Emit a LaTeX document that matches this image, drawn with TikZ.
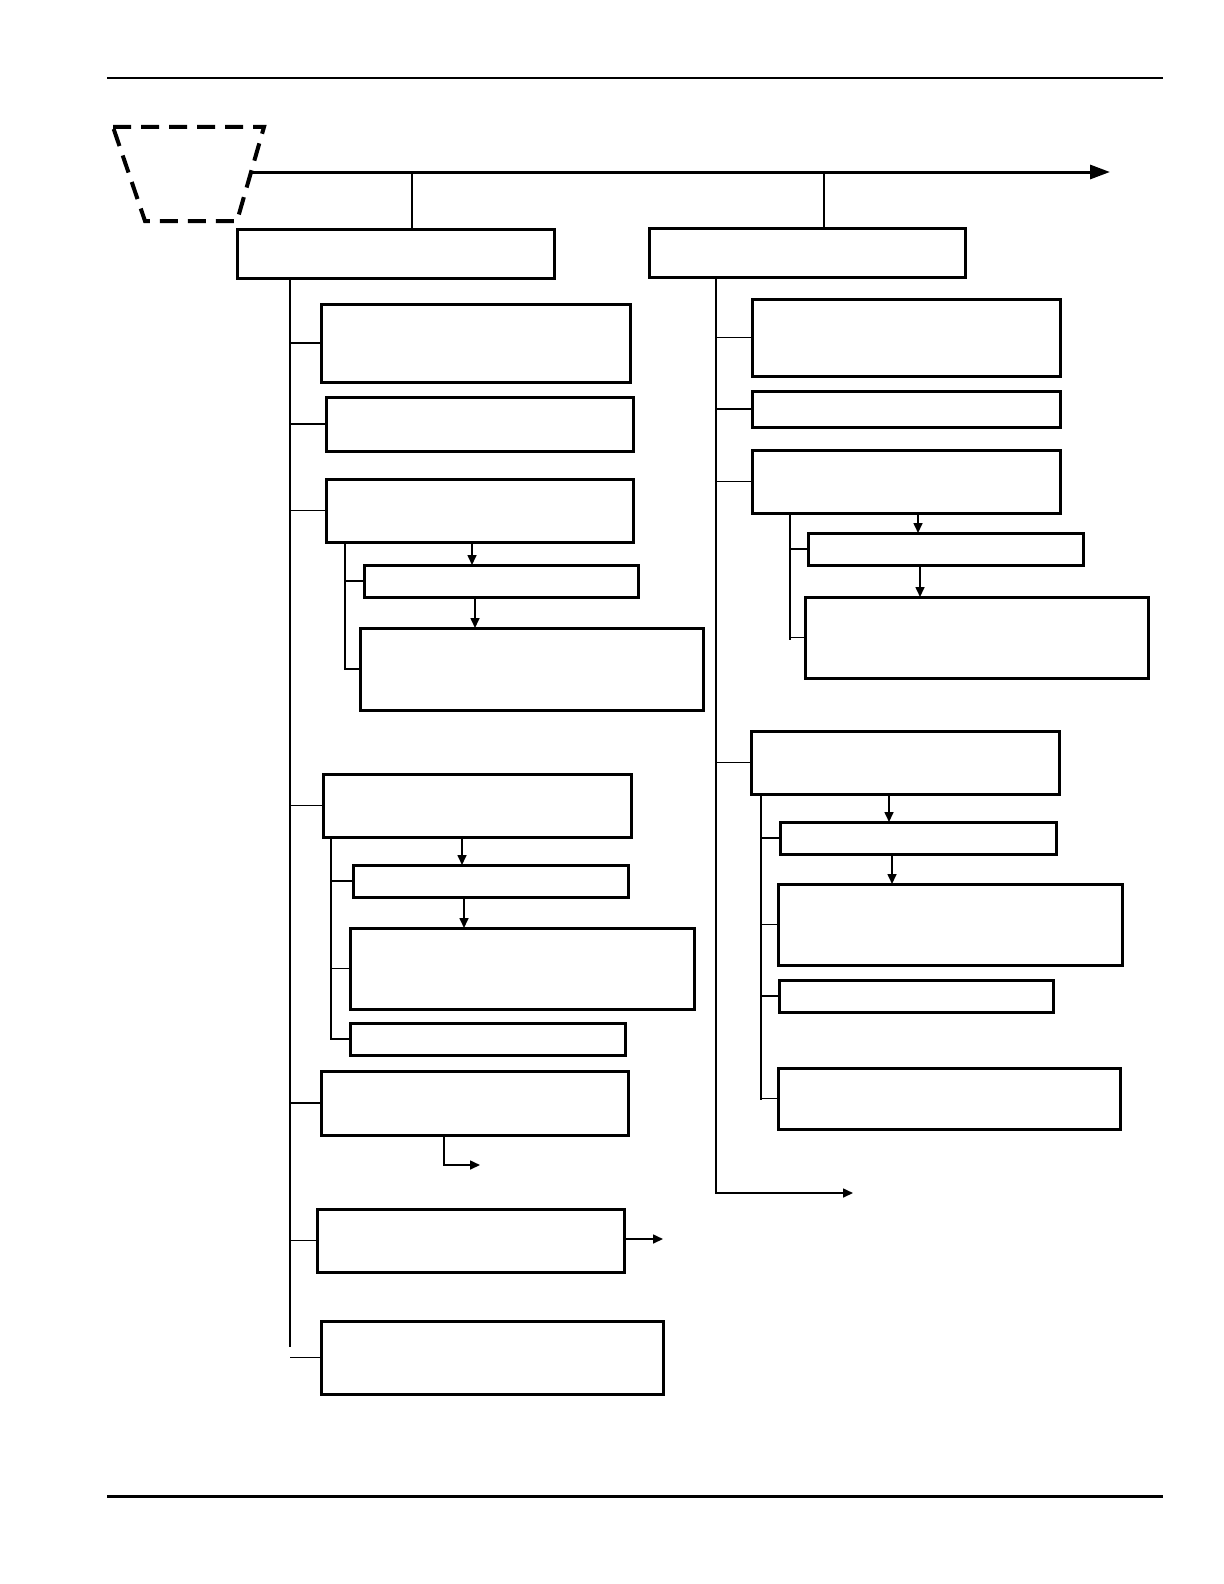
\documentclass[tikz,border=0pt]{standalone}
\usetikzlibrary{arrows.meta}
\begin{document}
\begin{tikzpicture}[x=0.5pt,y=-0.5pt,
  bx/.style={draw,line width=1.5pt,inner sep=0,outer sep=0},
  ln/.style={line width=0.8pt},
  arr/.style={line width=0.8pt,-{Triangle[length=5pt,width=4.5pt]}}]
\newcommand\bx[5]{\node[bx,minimum width={(#4-#2)*0.5pt},minimum height={(#5-#3)*0.5pt}] (#1) at ({(#2+#4)/2},{(#3+#5)/2}) {};}
\useasboundingbox (0,0) rectangle (1224,1584);
\draw[ln] (107,78) -- (1163,78);
\draw[line width=1.5pt] (107,1496) -- (1163,1496);
\draw[line width=2pt,dash pattern=on 9pt off 5pt] (113,127) -- (264,127) -- (237,221) -- (145,221) -- cycle;
\coordinate (ms) at (250,172); \coordinate (me) at (1110,172);
\draw[line width=1.5pt,-{Triangle[length=10pt,width=7pt]}] (ms) -- (me);
\bx{L}{237}{229}{554}{278}
\bx{R}{649}{228}{965}{277}
\draw[ln] (L.north -| 412,0) -- (412,172);
\draw[ln] (R.north -| 824,0) -- (824,172);
% left
\coordinate (ls) at (290,278); \coordinate (le) at (290,1347);
\draw[ln] (ls) -- (le);
\bx{B1}{321}{304}{630}{382}
\bx{B2}{326}{397}{633}{451}
\bx{B3}{326}{479}{633}{542}
\bx{B3a}{364}{565}{638}{597}
\bx{B3b}{360}{628}{703}{710}
\bx{B4}{323}{774}{631}{837}
\bx{B4a}{353}{865}{628}{897}
\bx{B4b}{350}{928}{694}{1009}
\bx{B4c}{350}{1023}{625}{1055}
\bx{B5}{321}{1071}{628}{1135}
\bx{B6}{317}{1209}{624}{1272}
\bx{B7}{321}{1321}{663}{1394}
\foreach \b in {B1,B2,B3,B4,B5,B6,B7} \draw[ln] (\b.west) -- (\b.west -| ls);
\coordinate (s3) at (345,542);
\draw[ln] (s3) -- (345,670);
\foreach \b in {B3a,B3b} \draw[ln] (\b.west) -- (\b.west -| s3);
\draw[arr] (B3.south -| 472,0) -- (B3a.north -| 472,0);
\draw[arr] (B3a.south -| 475,0) -- (B3b.north -| 475,0);
\coordinate (s4) at (331,837);
\draw[ln] (s4) -- (331,1040);
\foreach \b in {B4a,B4b,B4c} \draw[ln] (\b.west) -- (\b.west -| s4);
\draw[arr] (B4.south -| 462,0) -- (B4a.north -| 462,0);
\draw[arr] (B4a.south -| 464,0) -- (B4b.north -| 464,0);
\coordinate (e5) at (480,1165);
\draw[arr] (B5.south -| 444,0) |- (e5);
\coordinate (e6) at (663,1239);
\draw[arr] (B6.east |- e6) -- (e6);
% right
\coordinate (rs) at (716,277); \coordinate (re) at (853,1193);
\draw[arr] (rs) |- (re);
\bx{R1}{752}{299}{1060}{376}
\bx{R2}{752}{391}{1060}{427}
\bx{R3}{752}{450}{1060}{513}
\bx{R3a}{808}{533}{1083}{565}
\bx{R3b}{805}{597}{1148}{678}
\bx{R4}{751}{731}{1059}{794}
\bx{R4a}{780}{822}{1056}{854}
\bx{R4b}{778}{884}{1122}{965}
\bx{R4c}{779}{980}{1053}{1012}
\bx{R4d}{778}{1068}{1120}{1129}
\foreach \b in {R1,R2,R3,R4} \draw[ln] (\b.west) -- (\b.west -| rs);
\coordinate (t3) at (790,513);
\draw[ln] (t3) -- (790,640);
\foreach \b in {R3a,R3b} \draw[ln] (\b.west) -- (\b.west -| t3);
\draw[arr] (R3.south -| 918,0) -- (R3a.north -| 918,0);
\draw[arr] (R3a.south -| 920,0) -- (R3b.north -| 920,0);
\coordinate (t4) at (761,794);
\draw[ln] (t4) -- (761,1100);
\foreach \b in {R4a,R4b,R4c,R4d} \draw[ln] (\b.west) -- (\b.west -| t4);
\draw[arr] (R4.south -| 889,0) -- (R4a.north -| 889,0);
\draw[arr] (R4a.south -| 892,0) -- (R4b.north -| 892,0);
\end{tikzpicture}
\end{document}
